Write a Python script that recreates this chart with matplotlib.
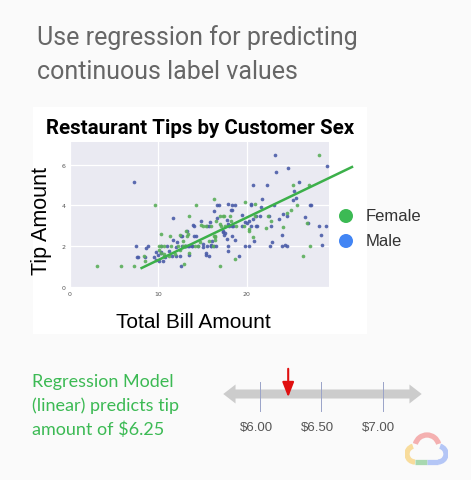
import matplotlib
matplotlib.use("Agg")
import matplotlib.pyplot as plt
from matplotlib.patches import Rectangle, FancyArrow, Arc, Circle
import numpy as np

# ---- data (tips shown in the scatter) ----
male_bill = [10.34, 21.01, 23.68, 25.29, 8.77, 26.88, 15.04, 14.78, 10.27, 15.42, 18.43, 21.58, 16.29, 20.65,
             17.92, 19.82, 17.81, 13.37, 12.69, 21.7, 9.55, 18.35, 17.78, 24.06, 16.31, 18.69, 16.04, 17.46,
             13.94, 9.68, 18.29, 22.23, 28.55, 18.04, 12.54, 9.94, 25.56, 19.49, 11.24, 20.29, 13.81, 11.02,
             18.29, 17.59, 20.08, 20.23, 15.01, 12.02, 10.51, 17.92, 27.2, 22.76, 17.29, 19.44, 16.66, 15.98,
             13.03, 18.28, 24.71, 21.16, 28.97, 22.49, 27.28, 12.03, 21.01, 12.46, 15.36, 20.49, 25.21, 18.24,
             14.0, 23.95, 11.69, 14.26, 15.95, 8.52, 22.82, 19.08, 16.0, 9.78, 7.51, 14.07, 13.13, 17.26, 24.55,
             19.77, 16.49, 21.5, 12.66, 13.81, 24.52, 20.76, 15.81, 7.25, 16.82, 17.89, 14.48, 23.33, 23.17,
             20.69, 23.1, 15.69, 28.44, 15.48, 16.58, 7.56, 10.34, 13.51, 18.71, 20.53, 26.59, 24.27, 25.89,
             28.15, 11.59, 7.74, 12.16, 8.58, 13.42, 20.45, 13.28, 24.01, 15.69, 11.61, 10.77, 15.53, 10.07,
             12.6, 29.03, 22.67, 17.82]
male_tip = [1.66, 3.5, 3.31, 4.71, 2.0, 3.12, 1.96, 3.23, 1.71, 1.57, 3.0, 3.92, 3.71, 3.35,
            4.08, 3.18, 2.34, 2.0, 2.0, 4.3, 1.45, 2.5, 3.27, 3.6, 2.0, 2.31, 2.24, 2.54,
            3.06, 1.32, 3.0, 5.0, 2.05, 3.0, 2.5, 1.56, 4.34, 3.51, 1.76, 3.21, 2.0, 1.98,
            3.76, 2.64, 3.15, 2.01, 2.09, 1.97, 1.25, 3.08, 4.0, 3.0, 2.71, 3.0, 3.4, 2.03,
            2.0, 4.0, 5.85, 3.0, 3.0, 3.5, 4.0, 1.5, 3.0, 1.5, 1.64, 4.06, 4.29, 3.76,
            3.0, 2.55, 2.31, 2.5, 2.0, 1.48, 2.18, 1.5, 2.0, 1.73, 2.0, 2.5, 2.0, 2.74, 2.0,
            2.0, 2.0, 3.5, 2.5, 2.0, 3.48, 2.24, 3.16, 5.15, 4.0, 2.0, 2.0, 5.65, 6.5,
            5.0, 4.0, 1.5, 2.56, 2.02, 4.0, 1.44, 2.0, 2.0, 4.0, 4.0, 3.41, 2.03, 5.16,
            3.0, 1.5, 1.44, 2.2, 1.92, 1.58, 3.0, 2.72, 2.0, 3.0, 3.39, 1.47, 3.0, 1.25,
            1.0, 5.92, 2.0, 1.75]
female_bill = [16.99, 24.59, 14.83, 10.33, 16.97, 20.29, 15.77, 19.65, 15.06, 20.69, 16.93, 10.29, 26.41,
               16.45, 3.07, 17.07, 26.86, 25.28, 14.73, 10.07, 5.75, 16.32, 22.75, 11.35, 15.38, 22.42,
               20.92, 14.31, 7.25, 25.71, 17.31, 10.65, 12.43, 24.08, 13.42, 12.48, 14.52, 11.38, 20.27,
               11.17, 12.26, 18.26, 8.51, 10.33, 14.15, 13.16, 17.47, 27.05, 16.43, 8.35, 18.64, 11.87,
               25.0, 13.39, 16.21, 17.51, 10.59, 10.63, 9.6, 20.9, 18.15, 19.81, 13.0, 12.74, 13.0, 16.4,
               16.47, 12.76, 13.27, 28.17, 12.9, 13.42, 15.98, 16.27, 10.09, 22.12, 18.78, 27.18]
female_tip = [1.01, 3.61, 3.02, 1.67, 3.5, 2.75, 2.23, 3.0, 3.0, 2.45, 3.07, 2.6, 1.5,
              2.47, 1.0, 3.0, 3.14, 5.0, 2.2, 1.83, 1.0, 4.3, 3.25, 2.5, 3.0, 3.48,
              4.08, 4.0, 1.0, 4.0, 3.5, 1.5, 1.8, 2.92, 1.68, 2.52, 2.0, 2.0, 2.83,
              1.5, 2.0, 3.25, 1.25, 2.0, 2.0, 2.75, 3.5, 5.0, 2.3, 1.5, 1.36, 1.63,
              3.75, 2.61, 2.0, 3.0, 1.61, 2.0, 4.0, 3.5, 3.5, 4.19, 2.0, 2.01, 2.0, 2.5,
              3.23, 2.23, 2.5, 6.5, 1.1, 3.48, 3.0, 2.5, 2.0, 2.88, 3.0, 2.0]
trend_x = [8.1, 31.9]
trend_y = [0.92, 5.89]
x_ticks = [0, 10, 20]
y_ticks = [0, 2, 4, 6]
legend_labels = ["Female", "Male"]
price_ticks = [6.00, 6.50, 7.00]
price_labels = ["$6.00", "$6.50", "$7.00"]
prediction = 6.25

W, H = 471, 481
fig = plt.figure(figsize=(W / 100, H / 100), dpi=100)
fig.patch.set_facecolor("#fafafa")


def fx(x):
    return x / W


def fy(y):
    return 1 - y / H


# white card behind the chart
bg = fig.add_axes([0, 0, 1, 1], zorder=-5)
bg.set_xlim(0, W)
bg.set_ylim(H, 0)
bg.axis("off")
bg.add_patch(Rectangle((33, 108), 334, 227, facecolor="white", edgecolor="none"))

# header
fig.text(fx(37), fy(38), "Use regression for predicting", fontsize=18, family="Roboto",
         color="#666666", va="center", ha="left")
fig.text(fx(37), fy(72), "continuous label values", fontsize=18, family="Roboto",
         color="#666666", va="center", ha="left")

# scatter axes
ax = fig.add_axes([fx(70), fy(287.7), fx(329) - fx(70), fy(143) - fy(287.7)], zorder=2)
ax.set_facecolor("#eaeaf2")
for s in ax.spines.values():
    s.set_visible(False)
ax.grid(True, color="white", linewidth=0.9)
ax.set_axisbelow(True)
ax.set_xlim(0, 29.3)
ax.set_ylim(0, 7.12)
ax.set_xticks(x_ticks)
ax.set_yticks(y_ticks)
ax.tick_params(length=0, labelsize=4.5, labelcolor="#555555", pad=3)
ax.scatter(male_bill, male_tip, s=7, color="#4a5ca8", alpha=0.9, linewidths=0, zorder=3)
ax.scatter(female_bill, female_tip, s=7, color="#5aae5a", alpha=0.9, linewidths=0, zorder=3)
ax.plot(trend_x, trend_y, color="#3cb04a", linewidth=1.8, clip_on=False, zorder=4)

fig.text(fx(200), fy(128), "Restaurant Tips by Customer Sex", fontsize=14.8, family="Roboto",
         fontweight="bold", color="black", ha="center", va="center")
fig.text(fx(42), fy(221), "Tip Amount", fontsize=15.5, family="Liberation Sans",
         rotation=90, ha="center", va="center", color="black")
fig.text(fx(193), fy(322), "Total Bill Amount", fontsize=15, family="Liberation Sans",
         ha="center", va="center", color="black")

# legend
leg_colors = ["#3cba54", "#4285f4"]
for i, (lab, c) in enumerate(zip(legend_labels, leg_colors)):
    yy = 217 + 25 * i
    bg.add_patch(Circle((346, yy), 7, facecolor=c, edgecolor="none"))
    fig.text(fx(366), fy(yy), lab, fontsize=12, family="Liberation Sans", color="#333333",
             ha="left", va="center")

# number line axes
ax2 = fig.add_axes([fx(200), fy(440), fx(450) - fx(200), fy(360) - fy(440)])
ax2.set_xlim(5.51, 7.551)
ax2.set_ylim(440, 360)
ax2.axis("off")
ax2.add_patch(FancyArrow(6.0, 395, 1.32, 0, width=9, head_width=19, head_length=0.1,
                         length_includes_head=True, color="#cccccc", linewidth=0))
ax2.add_patch(FancyArrow(6.0, 395, -0.3, 0, width=9, head_width=19, head_length=0.1,
                         length_includes_head=True, color="#cccccc", linewidth=0))
for t, lab in zip(price_ticks, price_labels):
    ax2.plot([t, t], [383, 412], color="#9aa3c8", linewidth=0.7)
    ax2.text(t - 0.03, 428, lab, fontsize=9.5, family="Liberation Sans", color="#555555",
             ha="center", va="center")
ax2.annotate("", xy=(prediction - 0.02, 401), xytext=(prediction - 0.02, 367),
             arrowprops=dict(arrowstyle="-|>,head_length=0.9,head_width=0.35",
                             color="#e01010", lw=1.5))

# handwritten-style note
for i, line in enumerate(["Regression Model", "(linear) predicts tip", "amount of $6.25"]):
    fig.text(fx(32), fy(382 + 24 * i), line, fontsize=13, family="Lato", color="#3cba54",
             ha="left", va="center")

# faint cloud logo
logo = fig.add_axes([fx(405), fy(468), fx(448) - fx(405), fy(433) - fy(468)])
logo.set_xlim(0, 43)
logo.set_ylim(0, 35)
logo.axis("off")
lw = 3.8
logo.add_patch(Arc((22, 20), 24, 24, theta1=15, theta2=165, color="#f4b0b0", lw=lw))
logo.add_patch(Arc((33, 13), 16, 16, theta1=-90, theta2=75, color="#b4c6f6", lw=lw))
logo.add_patch(Arc((10, 13), 16, 16, theta1=105, theta2=270, color="#f8dc9c", lw=lw))
logo.plot([10, 22], [5, 5], color="#a8d8b0", lw=lw, solid_capstyle="butt")
logo.plot([22, 33], [5, 5], color="#b4c6f6", lw=lw, solid_capstyle="butt")

fig.savefig("out.png", dpi=100, facecolor=fig.get_facecolor())
